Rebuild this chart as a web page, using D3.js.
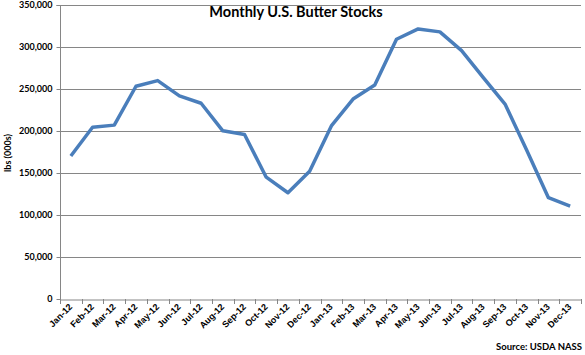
<!DOCTYPE html>
<html><head><meta charset="utf-8">
<script src="https://cdn.jsdelivr.net/npm/d3@7"></script>
<style>
body{margin:0;background:#fff;}
svg{display:block;font-family:Lato,"Open Sans",sans-serif;}
</style></head>
<body><svg id="c" width="585" height="355"></svg>
<script>
const months = ["Jan-12","Feb-12","Mar-12","Apr-12","May-12","Jun-12","Jul-12","Aug-12","Sep-12","Oct-12","Nov-12","Dec-12",
"Jan-13","Feb-13","Mar-13","Apr-13","May-13","Jun-13","Jul-13","Aug-13","Sep-13","Oct-13","Nov-13","Dec-13"];
const stocks = [170200,204500,207000,253300,260000,241800,233000,200200,195800,145000,126500,152000,
206000,238000,254800,309200,321500,318000,295600,263500,232100,177000,120600,110700];
const yTicks = [0,50000,100000,150000,200000,250000,300000,350000];
const title = "Monthly U.S. Butter Stocks";
const yLabel = "lbs (000s)";
const source = "Source: USDA NASS";

const svg = d3.select("#c");
const L=60, R=581, T=5, B=299;
const x = d3.scaleBand().domain(months).range([L,R]);
const y = d3.scaleLinear().domain([0,350000]).range([B,T]);

// gridlines
svg.append("g").selectAll("line").data(yTicks.filter(d=>d>0)).join("line")
  .attr("x1",L).attr("x2",R).attr("y1",d=>y(d)+0.5).attr("y2",d=>y(d)+0.5)
  .attr("stroke","#868686").attr("stroke-width",1);

// y axis
const ya = svg.append("g").attr("transform",`translate(${L+0.5},0)`)
  .call(d3.axisLeft(y).tickValues(yTicks).tickSize(4).tickPadding(4).tickFormat(d3.format(",")));
ya.select(".domain").attr("stroke","#868686").attr("d",`M-4,${T+0.5}H0V${B+0.5}`);
ya.selectAll(".tick line").attr("stroke","#868686");
ya.selectAll(".tick").attr("transform",d=>`translate(0,${y(d)+0.5})`);
ya.selectAll("text").attr("font-size",9).attr("font-weight","bold").attr("fill","#000").attr("font-family","Lato,sans-serif");

// x axis
const xa = svg.append("g").attr("transform",`translate(0,${B+0.5})`)
  .call(d3.axisBottom(x).tickSize(0).tickFormat(d=>d));
xa.select(".domain").attr("stroke","#868686");
svg.append("g").selectAll("line").data(d3.range(months.length+1)).join("line")
  .attr("x1",i=>Math.round(L+i*x.step())+0.5).attr("x2",i=>Math.round(L+i*x.step())+0.5)
  .attr("y1",B).attr("y2",B+5).attr("stroke","#868686");
xa.selectAll("text").attr("font-size",9).attr("font-weight","bold").attr("fill","#000")
  .attr("text-anchor","end").attr("dy",0).attr("y",0)
  .attr("transform",`translate(2,8) rotate(-45)`);

// line
svg.append("path").datum(stocks)
  .attr("fill","none").attr("stroke","#4A7EBB").attr("stroke-width",3.5)
  .attr("stroke-linejoin","round")
  .attr("d",d3.line().x((d,i)=>x(months[i])+x.bandwidth()/2).y(d=>y(d)));

// title
svg.append("text").attr("x",296).attr("y",17).attr("text-anchor","middle")
  .attr("font-size",14.5).attr("font-weight","bold").text(title);
// y label
svg.append("text").attr("transform","translate(11,153) rotate(-90)").attr("text-anchor","middle")
  .attr("font-size",9).attr("font-weight","bold").text(yLabel);
// source
svg.append("text").attr("x",582).attr("y",350).attr("text-anchor","end")
  .attr("font-size",9.5).attr("font-weight","bold").text(source);
</script></body></html>
